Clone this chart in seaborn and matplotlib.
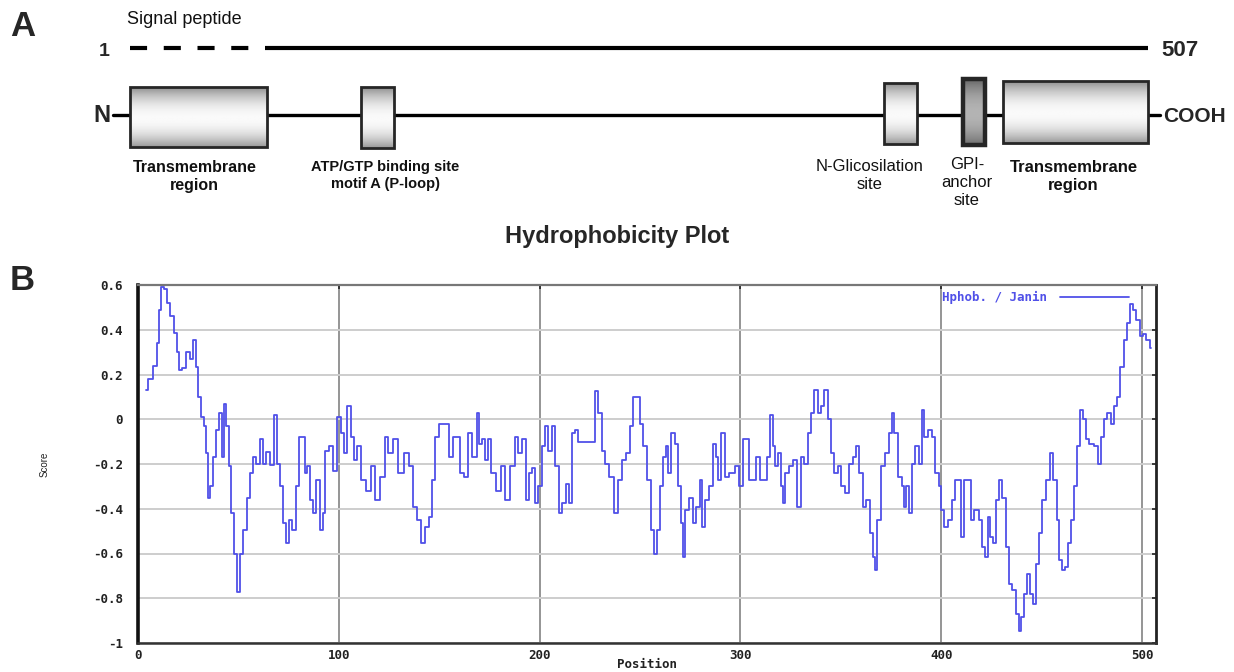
import numpy as np
import pandas as pd
import matplotlib
matplotlib.use("Agg")
import matplotlib.pyplot as plt
import seaborn as sns
from matplotlib.patches import Rectangle
from matplotlib.lines import Line2D

# ---------------- data ----------------
seq_length = 507
signal_peptide_end = 68
domain_labels = ["Transmembrane\nregion", "ATP/GTP binding site\nmotif A (P-loop)",
                 "N-Glicosilation\nsite", "GPI-\nanchor\nsite", "Transmembrane\nregion"]
domain_starts = [1, 116, 376, 415, 435]
domain_ends = [69, 132, 392, 426, 507]

position = [4, 6, 8.5, 10, 11, 12, 13.5, 15, 17, 18.5, 20, 21, 22.5, 25, 26.5, 28, 29.5, 30.5, 32, 33.5,
            34.5, 35.5, 36.5, 38, 39.5, 41, 42.5, 43.5, 44.5, 46, 47, 48.5, 50, 51.5, 53.5, 55, 57, 58, 59.5, 62,
            63, 64.5, 67, 68.5, 70, 71, 73, 74.5, 75.5, 78, 79.5, 81, 82.5, 83.5, 85, 86, 88, 89.5, 91.5, 92.5,
            94, 96, 98.5, 100, 102, 103, 105, 107, 108.5, 110, 112, 115, 117, 119, 122, 124,
            125.5, 128, 130.5, 134, 136, 138, 139.5, 142, 144, 146, 147, 149, 151, 154, 156, 158, 159.5, 161,
            163.5, 165, 168, 169.5, 170.5, 172, 173.5, 175, 177, 180, 182, 184, 187, 188.5, 190, 192, 194, 195,
            197, 198.5, 200, 202, 203, 205, 207, 208.5, 210.5, 212, 214, 215.5, 216.5, 218.5, 220, 223.5, 227,
            228.5, 230, 232, 233.5, 236, 238.5, 240, 242.5, 244, 246, 247.5, 249, 251,
            252.5, 254.7, 256.4, 258, 259.2, 260.5, 262, 263.5, 264.7, 266.4, 268, 269.7, 270.9, 271.8, 273,
            275.5, 277, 278.8, 280.5, 281.7, 283, 285.4, 287, 288.4, 289.6, 291.3, 293, 296, 298.5, 300.3, 302,
            303.6, 305, 307, 309, 310.3, 312.8, 314, 315.5, 316.6, 318, 319.5, 320.7, 321.6, 323.3, 325.3, 327,
            329, 331, 332.6, 334.3, 336, 337.6, 339.3, 341, 342.6, 344.3, 346, 347.6, 349.3, 351, 353, 355, 357,
            358.4, 360, 361.8, 363.7, 365, 366.7, 367.5, 369, 371, 373, 374.7, 376, 377.3, 379.5, 381,
            382, 383.3, 385, 386, 388, 389.6, 391, 392.4, 394.4, 396, 398, 399.6, 400.5, 402, 404.6, 406.3,
            407.6, 409.6, 410.5, 412, 413.8, 415.5, 417.6, 419.6, 421.3, 422.6, 423.8, 425, 426.6, 428.3, 429.6,
            431.3, 433, 434.6, 436.3, 438, 439.3, 440.5, 442.2, 443.8, 445, 446.4, 447.7, 449.4, 451, 453, 455,
            456.9, 458.2, 459.5, 460.7, 462.4, 464, 465.8, 467, 468.3, 470, 471.3, 472.5, 475, 477.5, 479.2,
            480.5, 482, 483.4, 485.4, 486.7, 488.4, 490, 491.7, 493.4, 495, 496.4, 498, 499.8, 501.5, 503, 504.7]
score = [0.13, 0.18, 0.24, 0.34, 0.49, 0.59, 0.58, 0.52, 0.46, 0.385, 0.30, 0.22, 0.23, 0.30, 0.27, 0.355, 0.235, 0.10, 0.01, -0.03,
         -0.15, -0.35, -0.30, -0.17, -0.05, 0.03, -0.17, 0.07, -0.03, -0.21, -0.42, -0.60, -0.77, -0.60, -0.495, -0.35, -0.24, -0.17, -0.20, -0.09,
         -0.20, -0.145, -0.205, 0.02, -0.20, -0.30, -0.465, -0.555, -0.45, -0.495, -0.30, -0.08, -0.08, -0.24, -0.21, -0.36, -0.42, -0.27, -0.495, -0.42,
         -0.14, -0.12, -0.23, 0.01, -0.06, -0.15, 0.06, -0.08, -0.18, -0.12, -0.27, -0.32, -0.21, -0.36, -0.26, -0.08,
         -0.15, -0.09, -0.24, -0.15, -0.21, -0.39, -0.45, -0.555, -0.48, -0.435, -0.27, -0.08, -0.02, -0.02, -0.17, -0.08, -0.08, -0.24,
         -0.26, -0.06, -0.17, 0.03, -0.11, -0.09, -0.18, -0.09, -0.24, -0.32, -0.21, -0.36, -0.21, -0.08, -0.15, -0.09, -0.36, -0.24,
         -0.22, -0.375, -0.30, -0.12, -0.03, -0.14, -0.03, -0.21, -0.42, -0.375, -0.29, -0.375, -0.06, -0.05, -0.10, -0.10, -0.10,
         0.125, 0.03, -0.14, -0.20, -0.26, -0.42, -0.27, -0.18, -0.15, -0.03, 0.10, 0.10, -0.02,
         -0.12, -0.27, -0.495, -0.60, -0.495, -0.30, -0.17, -0.12, -0.24, -0.06, -0.11, -0.30, -0.465, -0.615, -0.405,
         -0.35, -0.465, -0.39, -0.27, -0.48, -0.36, -0.30, -0.11, -0.17, -0.27, -0.06, -0.26, -0.24, -0.21, -0.30, -0.09,
         -0.09, -0.27, -0.27, -0.17, -0.27, -0.27, -0.17, 0.02, -0.12, -0.21, -0.15, -0.30, -0.375, -0.24, -0.21, -0.18,
         -0.39, -0.17, -0.20, -0.06, 0.03, 0.13, 0.03, 0.06, 0.13, 0.00, -0.15, -0.24, -0.21, -0.30, -0.33, -0.20, -0.17,
         -0.12, -0.24, -0.39, -0.36, -0.51, -0.615, -0.675, -0.45, -0.21, -0.15, -0.06, 0.03, -0.06, -0.26, -0.30,
         -0.39, -0.30, -0.42, -0.20, -0.12, -0.20, 0.04, -0.08, -0.05, -0.08, -0.24, -0.30, -0.405, -0.48, -0.45, -0.36,
         -0.27, -0.27, -0.525, -0.27, -0.27, -0.45, -0.405, -0.45, -0.57, -0.615, -0.435, -0.525, -0.555, -0.36, -0.27,
         -0.35, -0.57, -0.735, -0.765, -0.87, -0.945, -0.885, -0.78, -0.69, -0.78, -0.825, -0.645, -0.51, -0.36, -0.27, -0.15,
         -0.27, -0.45, -0.63, -0.675, -0.66, -0.555, -0.45, -0.30, -0.12, 0.04, 0.00, -0.09, -0.11, -0.12, -0.20,
         -0.08, 0.00, 0.03, -0.02, 0.06, 0.10, 0.235, 0.355, 0.43, 0.515, 0.49, 0.445, 0.37, 0.38, 0.355, 0.32]

y_ticks = [0.6, 0.4, 0.2, 0, -0.2, -0.4, -0.6, -0.8, -1]
y_tick_labels = ["0.6", "0.4", "0.2", "0", "-0.2", "-0.4", "-0.6", "-0.8", "-1"]
x_ticks = [0, 100, 200, 300, 400, 500]
x_tick_labels = ["0", "100", "200", "300", "400", "500"]
legend_label = "Hphob. / Janin"

df = pd.DataFrame({"Position": position, "Score": score})

# ---------------- style ----------------
sns.set_theme(style="white")
plt.rcParams["font.family"] = ["Liberation Sans", "DejaVu Sans"]

W, H = 1234, 672
fig = plt.figure(figsize=(W / 100, H / 100), dpi=100)
fig.patch.set_facecolor("white")

# ---------------- panel A ----------------
A_H = 255
axA = fig.add_axes([0, 1 - A_H / H, 1, A_H / H])
axA.axis("off")


def px2res(px):
    return 1 + (px - 130) * (seq_length - 1) / 1018.0


# top sequence line (signal peptide dashed)
axA.plot([1, signal_peptide_end], [48, 48], color="black", lw=3.0, dashes=(4.1, 4.0),
         solid_capstyle="butt", dash_capstyle="butt")
axA.plot([signal_peptide_end, seq_length], [48, 48], color="black", lw=3.0, solid_capstyle="butt")
axA.text(px2res(127), 20, "Signal peptide", fontsize=13, va="center", ha="left", color="#111")
axA.text(px2res(104), 51, "1", fontsize=14, weight="bold", va="center", ha="center")
axA.text(px2res(1161), 50, str(seq_length), fontsize=16, weight="bold", va="center", ha="left")

# backbone
axA.plot([px2res(113), px2res(1160)], [115, 115], color="black", lw=2.4, zorder=1)
axA.text(px2res(102), 116, "N", fontsize=17, weight="bold", va="center", ha="center")
axA.text(px2res(1163), 116, "COOH", fontsize=15, weight="bold", va="center", ha="left")

# gradient for cylinder-like boxes
t = np.linspace(0, 1, 80)
peak = 0.52
prof = np.where(t < peak, 0.98 - 0.42 * ((peak - t) / peak) ** 2,
                0.98 - 0.38 * ((t - peak) / (1 - peak)) ** 2)
grad = np.tile(prof[:, None], (1, 4))

box_tops = [87, 87, 83, 79, 81]
box_bottoms = [147, 148, 144, 145, 143]
box_dark = [False, False, False, True, False]
box_lw = [2.0, 2.0, 2.0, 3.2, 2.0]
label_dx = [-2, 4, -15.5, -3.5, -1]
label_bold = [True, True, False, False, True]
label_size = [11.5, 10.5, 12, 12, 12]
label_top = [160, 160, 159, 157, 160]

for i, (lab, s, e) in enumerate(zip(domain_labels, domain_starts, domain_ends)):
    top, bot = box_tops[i], box_bottoms[i]
    g = grad * 0.72 if box_dark[i] else grad
    rect = Rectangle((s, top), e - s, bot - top, facecolor="none",
                     edgecolor="#262626", lw=box_lw[i], zorder=4)
    axA.add_patch(rect)
    im = axA.imshow(g, extent=[s, e, bot, top], cmap="gray", vmin=0, vmax=1,
                    aspect="auto", origin="upper", zorder=3, interpolation="bilinear")
    im.set_clip_path(rect)
    axA.text((s + e) / 2 + label_dx[i], label_top[i], lab, ha="center", va="top",
             fontsize=label_size[i], weight="bold" if label_bold[i] else "normal",
             linespacing=1.25, color="#111")

axA.set_xlim(px2res(0), px2res(W))
axA.set_ylim(A_H, 0)

fig.text(10 / W, 1 - 26 / H, "A", fontsize=25, weight="bold", va="center", ha="left")
fig.text(10 / W, 1 - 281 / H, "B", fontsize=25, weight="bold", va="center", ha="left")
fig.text(617 / W, 1 - 237 / H, "Hydrophobicity Plot", fontsize=17, weight="bold",
         va="center", ha="center")

# ---------------- panel B ----------------
L, R, T, B = 138, 1156, 285, 643
axB = fig.add_axes([L / W, 1 - B / H, (R - L) / W, (B - T) / H])
line_color = "#5050e8"
sns.lineplot(data=df, x="Position", y="Score", ax=axB, color=line_color, lw=1.3,
             drawstyle="steps-mid", estimator=None, sort=False, zorder=3)
axB.set_xlim(0, 507)
axB.set_ylim(-1, 0.6)
axB.set_xticks(x_ticks)
axB.set_xticklabels(x_tick_labels)
axB.set_yticks(y_ticks)
axB.set_yticklabels(y_tick_labels)
axB.xaxis.grid(True, color="#8c8c8c", lw=1.3, zorder=0)
axB.yaxis.grid(True, color="#cdcdcd", lw=1.4, zorder=0)
axB.set_axisbelow(True)

tick_font = dict(family=["DejaVu Sans Mono"], weight="bold", size=9)
for lbl in axB.get_xticklabels() + axB.get_yticklabels():
    lbl.set_fontfamily("DejaVu Sans Mono")
    lbl.set_fontweight("bold")
    lbl.set_fontsize(9)
    lbl.set_color("#222")
axB.tick_params(axis="both", which="both", direction="in", length=3, width=1.2,
                colors="#222", top=True, right=True)
axB.tick_params(axis="x", pad=4)
axB.tick_params(axis="y", pad=11)

for side, col, lw in [("left", "#111", 2.6), ("bottom", "#333", 1.8),
                      ("top", "#777", 1.6), ("right", "#222", 2.0)]:
    axB.spines[side].set_visible(True)
    axB.spines[side].set_color(col)
    axB.spines[side].set_linewidth(lw)

axB.set_xlabel("Position", fontdict=tick_font, color="#222")
axB.set_ylabel("Score", fontsize=7, color="#222")
axB.xaxis.set_label_coords(0.5, -(658 - B) / (B - T))
axB.yaxis.set_label_coords(-(L - 50) / (R - L), 0.5)

handle = Line2D([], [], color=line_color, lw=1.3)
axB.legend([handle], [legend_label], loc="upper right",
           bbox_to_anchor=((1135 - L) / (R - L), 1.0), borderaxespad=0.1,
           markerfirst=False, frameon=False, handlelength=5.5, handletextpad=1.0,
           labelcolor=line_color, prop=dict(family="DejaVu Sans Mono", weight="bold", size=9))

fig.savefig("out.png", dpi=100, facecolor="white")
